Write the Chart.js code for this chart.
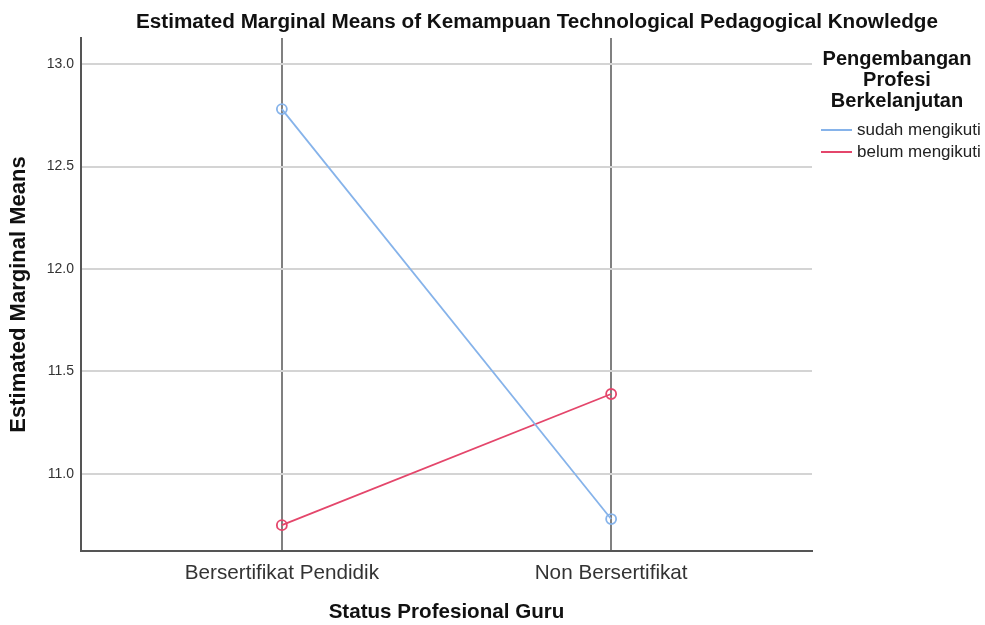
<!DOCTYPE html>
<html>
<head>
<meta charset="utf-8">
<script src="https://cdn.jsdelivr.net/npm/chart.js@4/dist/chart.umd.min.js"></script>
<style>
  html, body { margin: 0; padding: 0; background: #fff; }
  #wrap { width: 985px; height: 625px; }
</style>
</head>
<body>
<div id="wrap"><canvas id="emmChart" width="985" height="625"></canvas></div>
<script>
// Estimated Marginal Means profile plot

const categories = ['Bersertifikat Pendidik', 'Non Bersertifikat'];
const sudahMengikuti = [12.78, 10.78];
const belumMengikuti = [10.75, 11.39];
const yTicks = [11.0, 11.5, 12.0, 12.5, 13.0];
const seriesLabels = ['sudah mengikuti', 'belum mengikuti'];
const legendTitle = ['Pengembangan', 'Profesi', 'Berkelanjutan'];
const chartTitle = 'Estimated Marginal Means of Kemampuan Technological Pedagogical Knowledge';

const blue = '#86b3ea';
const red = '#e4466b';
const font = 'Arial, "Liberation Sans", sans-serif';

// title + legend drawn in the free space around the plot
const extras = {
  id: 'extras',
  afterDraw(chart) {
    const ctx = chart.ctx;
    ctx.save();
    ctx.fillStyle = '#111';
    ctx.textAlign = 'center';
    ctx.textBaseline = 'middle';
    ctx.font = 'bold 20.7px ' + font;
    ctx.fillText(chartTitle, 537, 22);

    ctx.font = 'bold 20px ' + font;
    legendTitle.forEach((t, i) => ctx.fillText(t, 897, 59 + i * 21));

    ctx.textAlign = 'left';
    ctx.font = '17px ' + font;
    ctx.fillStyle = '#222';
    chart.data.datasets.forEach((ds, i) => {
      const y = 130 + i * 22;
      ctx.strokeStyle = ds.borderColor;
      ctx.lineWidth = 2;
      ctx.beginPath();
      ctx.moveTo(821, y);
      ctx.lineTo(852, y);
      ctx.stroke();
      ctx.fillText(ds.label, 857, y);
    });
    ctx.restore();
  }
};

new Chart(document.getElementById('emmChart'), {
  type: 'line',
  data: {
    datasets: [
      {
        label: seriesLabels[0],
        data: sudahMengikuti.map((v, i) => ({ x: i + 1, y: v })),
        borderColor: blue,
        backgroundColor: 'rgba(0,0,0,0)',
        borderWidth: 1.8,
        pointRadius: 5,
        pointBorderWidth: 1.8,
        pointBackgroundColor: 'rgba(0,0,0,0)',
        tension: 0
      },
      {
        label: seriesLabels[1],
        data: belumMengikuti.map((v, i) => ({ x: i + 1, y: v })),
        borderColor: red,
        backgroundColor: 'rgba(0,0,0,0)',
        borderWidth: 1.8,
        pointRadius: 5,
        pointBorderWidth: 1.8,
        pointBackgroundColor: 'rgba(0,0,0,0)',
        tension: 0
      }
    ]
  },
  options: {
    responsive: false,
    animation: false,
    layout: { padding: { top: 38, right: 173, left: 0, bottom: 0 } },
    plugins: {
      legend: { display: false },
      title: { display: false },
      tooltip: { enabled: false }
    },
    scales: {
      x: {
        type: 'linear',
        min: 0.39,
        max: 2.61,
        afterBuildTicks: s => { s.ticks = categories.map((c, i) => ({ value: i + 1 })); },
        afterFit: s => { s.height = 74; },
        grid: { color: '#808080', lineWidth: 2, drawTicks: false },
        border: { display: true, color: '#555', width: 2 },
        ticks: {
          padding: 10,
          color: '#333',
          font: { family: font, size: 20.7 },
          callback: v => categories[v - 1]
        },
        title: {
          display: true,
          text: 'Status Profesional Guru',
          color: '#111',
          font: { family: font, size: 20.6, weight: 'bold' },
          padding: { top: 0, bottom: 0 }
        }
      },
      y: {
        min: 10.624,
        max: 13.127,
        afterBuildTicks: s => { s.ticks = yTicks.map(v => ({ value: v })); },
        afterFit: s => { s.width = 81; },
        grid: { color: '#d4d4d4', lineWidth: 2, drawTicks: false },
        border: { display: true, color: '#555', width: 2 },
        ticks: {
          padding: 7,
          color: '#333',
          font: { family: font, size: 14 },
          callback: v => v.toFixed(1)
        },
        title: {
          display: true,
          text: 'Estimated Marginal Means',
          color: '#111',
          font: { family: font, size: 22, weight: 'bold' },
          padding: { top: 6, bottom: 0 }
        }
      }
    }
  },
  plugins: [extras]
});
</script>
</body>
</html>
